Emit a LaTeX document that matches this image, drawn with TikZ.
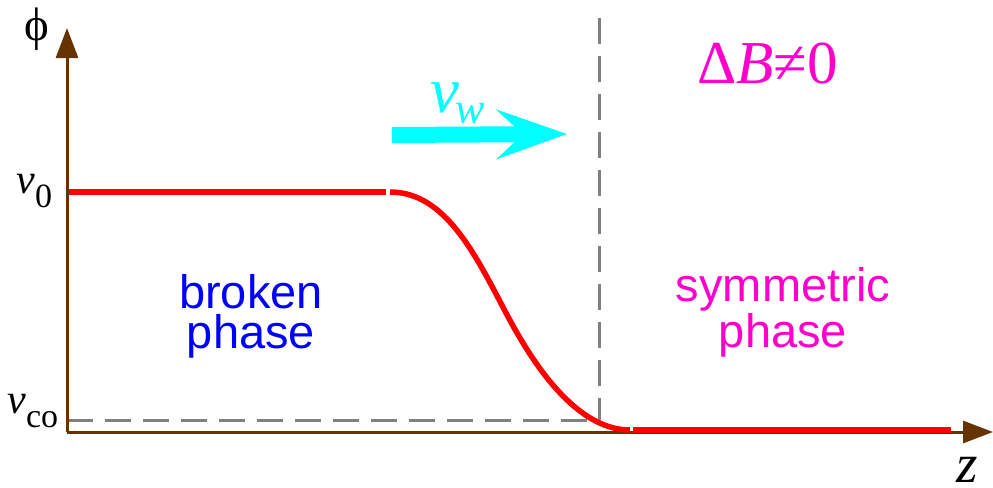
\documentclass[tikz,border=0pt]{standalone}
\usepackage{fontspec}
\newfontfamily\tms{Liberation Serif}
\newfontfamily\arl{Liberation Sans}
\usetikzlibrary{arrows.meta}
\definecolor{axisbrown}{RGB}{102,51,0}
\definecolor{dashgray}{RGB}{128,128,128}
\definecolor{mag}{RGB}{255,0,204}
\definecolor{cyanw}{RGB}{0,255,255}
\begin{document}
\begin{tikzpicture}[x=0.5pt,y=-0.5pt,
  axis/.style={draw=axisbrown, line width=1.5pt, -{Triangle[length=15pt,width=11pt]}},
  guide/.style={draw=dashgray, line width=1.5pt, dash pattern=on 13pt off 6pt},
  field/.style={draw=red, line width=2.75pt},
  lbl/.style={inner sep=0pt, anchor=base west},
  phasetxt/.style={inner sep=0pt, align=center, font=\arl\fontsize{23.5}{20}\selectfont}]
\useasboundingbox (0,0) rectangle (993,488);
% coordinates
\coordinate (O) at (67,432);
\coordinate (ytip) at (67,28);
\coordinate (xtip) at (993,432);
\coordinate (vtop) at (599,18);
\coordinate (corner) at (599,420);
\coordinate (hstart) at (67,420);
\coordinate (a0) at (69,192);
\coordinate (a1) at (386,192);
\coordinate (c0) at (390,192);
\coordinate (cm) at (505,311);
\coordinate (c1) at (630,430);
\coordinate (b0) at (633,430);
\coordinate (b1) at (951,430);
\coordinate (w0) at (392,135);
\coordinate (w1) at (567,134);
% guides
\draw[guide] (vtop) -- (corner);
\draw[guide] (hstart) -- (corner);
% axes
\draw[axis] (O) -- (ytip);
\draw[axis] (O) -- (xtip);
% field profile
\draw[field] (a0) -- (a1);
\draw[field] (c0) .. controls (445,192) and (475,254) .. (cm)
                  .. controls (527,353) and (572,430) .. (c1);
\draw[field] (b0) -- (b1);
% wall velocity arrow
\draw[draw=cyanw, line width=8pt, -{Stealth[length=35pt,width=24.5pt,inset=13pt]}] (w0) -- (w1);
% labels
\node[lbl] (phi) at (24,40) {\tms\fontsize{23.5}{23.5}\selectfont ϕ};
\node[lbl] (v0) at (16,193) {\tms\fontsize{21}{21}\selectfont\itshape v\raisebox{-7pt}{\upshape\fontsize{17}{17}\selectfont 0}};
\node[lbl] (vco) at (7,413) {\tms\fontsize{21}{21}\selectfont\itshape v\raisebox{-7pt}{\upshape\fontsize{17}{17}\selectfont co}};
\node[lbl] (zl) at (956,482) {\tms\fontsize{27.5}{27.5}\selectfont\itshape z};
\node[lbl, text=cyanw] (vw) at (430,112) {\tms\fontsize{32.5}{32.5}\selectfont\itshape v\kern-2pt\raisebox{-5.5pt}{\fontsize{22}{22}\selectfont w}};
\node[lbl, text=mag] (dB) at (697,83) {\tms\fontsize{30.5}{30.5}\selectfont Δ\textit{B}≠0};
\node[phasetxt, text=blue] (broken) at (251,316) {broken\\phase};
\node[phasetxt, text=mag] (sym) at (783,312) {symmetric\\phase};
\end{tikzpicture}
\end{document}
